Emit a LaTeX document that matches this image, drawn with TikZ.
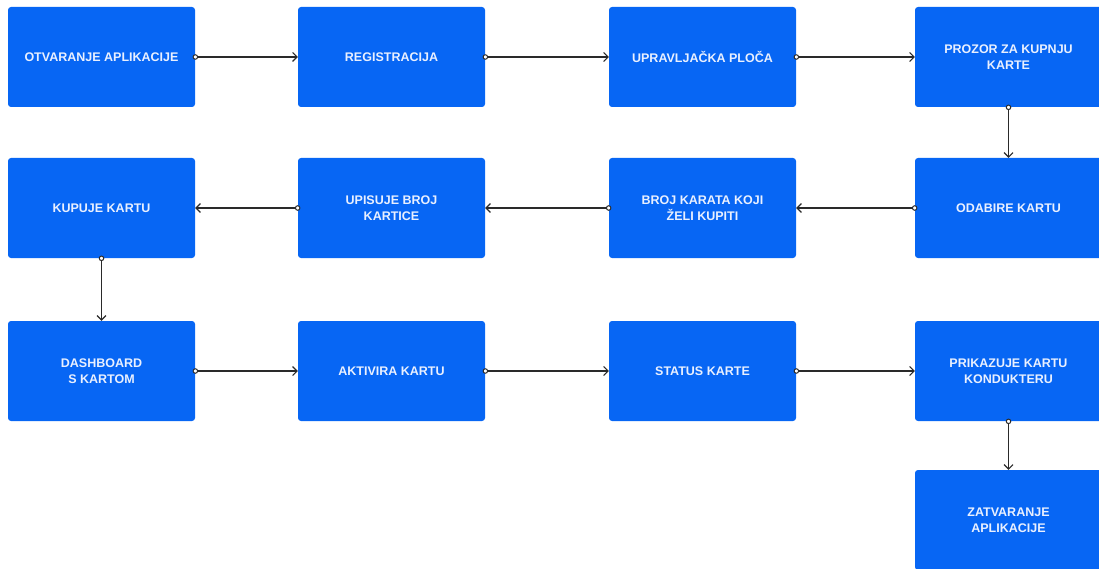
\documentclass[tikz,border=0pt]{standalone}
\usepackage{fontspec}
\setmainfont{Liberation Sans}
\usetikzlibrary{arrows.meta}
\definecolor{boxblue}{HTML}{0766F4}
\definecolor{boxtext}{HTML}{E9F0FF}
\definecolor{linegray}{HTML}{2A2A2A}
\tikzset{
  stepbox/.style={fill=boxblue, rounded corners=3pt, minimum width=187pt, minimum height=100pt,
    inner sep=0pt, text=boxtext, font=\bfseries\fontsize{12.5}{16}\selectfont, align=center},
  conn/.style={draw=linegray, line width=1.2pt, shorten <=-2.6pt,
    {Circle[open,fill=white,length=5.5pt,width=5.5pt,line width=1pt]}-{Straight Barb[length=4.5pt,width=9pt,line width=1.1pt]}}
}
\begin{document}
\begin{tikzpicture}[x=1pt,y=-1pt]
\useasboundingbox (0,0) rectangle (1099,569);
\clip (0,0) rectangle (1099,569);
\node[stepbox] (a1) at (101.5,57) {OTVARANJE APLIKACIJE};
\node[stepbox] (a2) at (391.5,57) {REGISTRACIJA};
\node[stepbox] (a3) at (702.5,57) {UPRAVLJAČKA PLOČA};
\node[stepbox] (a4) at (1008.5,57) {PROZOR ZA KUPNJU\\KARTE};
\node[stepbox] (b4) at (1008.5,208) {ODABIRE KARTU};
\node[stepbox] (b3) at (702.5,208) {BROJ KARATA KOJI\\ŽELI KUPITI};
\node[stepbox] (b2) at (391.5,208) {UPISUJE BROJ\\KARTICE};
\node[stepbox] (b1) at (101.5,208) {KUPUJE KARTU};
\node[stepbox] (c1) at (101.5,371) {DASHBOARD\\S KARTOM};
\node[stepbox] (c2) at (391.5,371) {AKTIVIRA KARTU};
\node[stepbox] (c3) at (702.5,371) {STATUS KARTE};
\node[stepbox] (c4) at (1008.5,371) {PRIKAZUJE KARTU\\KONDUKTERU};
\node[stepbox] (d4) at (1008.5,520) {ZATVARANJE\\APLIKACIJE};
\draw[conn] (a1.east) -- (a2.west);
\draw[conn] (a2.east) -- (a3.west);
\draw[conn] (a3.east) -- (a4.west);
\draw[conn] (a4.south) -- (b4.north);
\draw[conn] (b4.west) -- (b3.east);
\draw[conn] (b3.west) -- (b2.east);
\draw[conn] (b2.west) -- (b1.east);
\draw[conn] (b1.south) -- (c1.north);
\draw[conn] (c1.east) -- (c2.west);
\draw[conn] (c2.east) -- (c3.west);
\draw[conn] (c3.east) -- (c4.west);
\draw[conn] (c4.south) -- (d4.north);
\end{tikzpicture}
\end{document}
